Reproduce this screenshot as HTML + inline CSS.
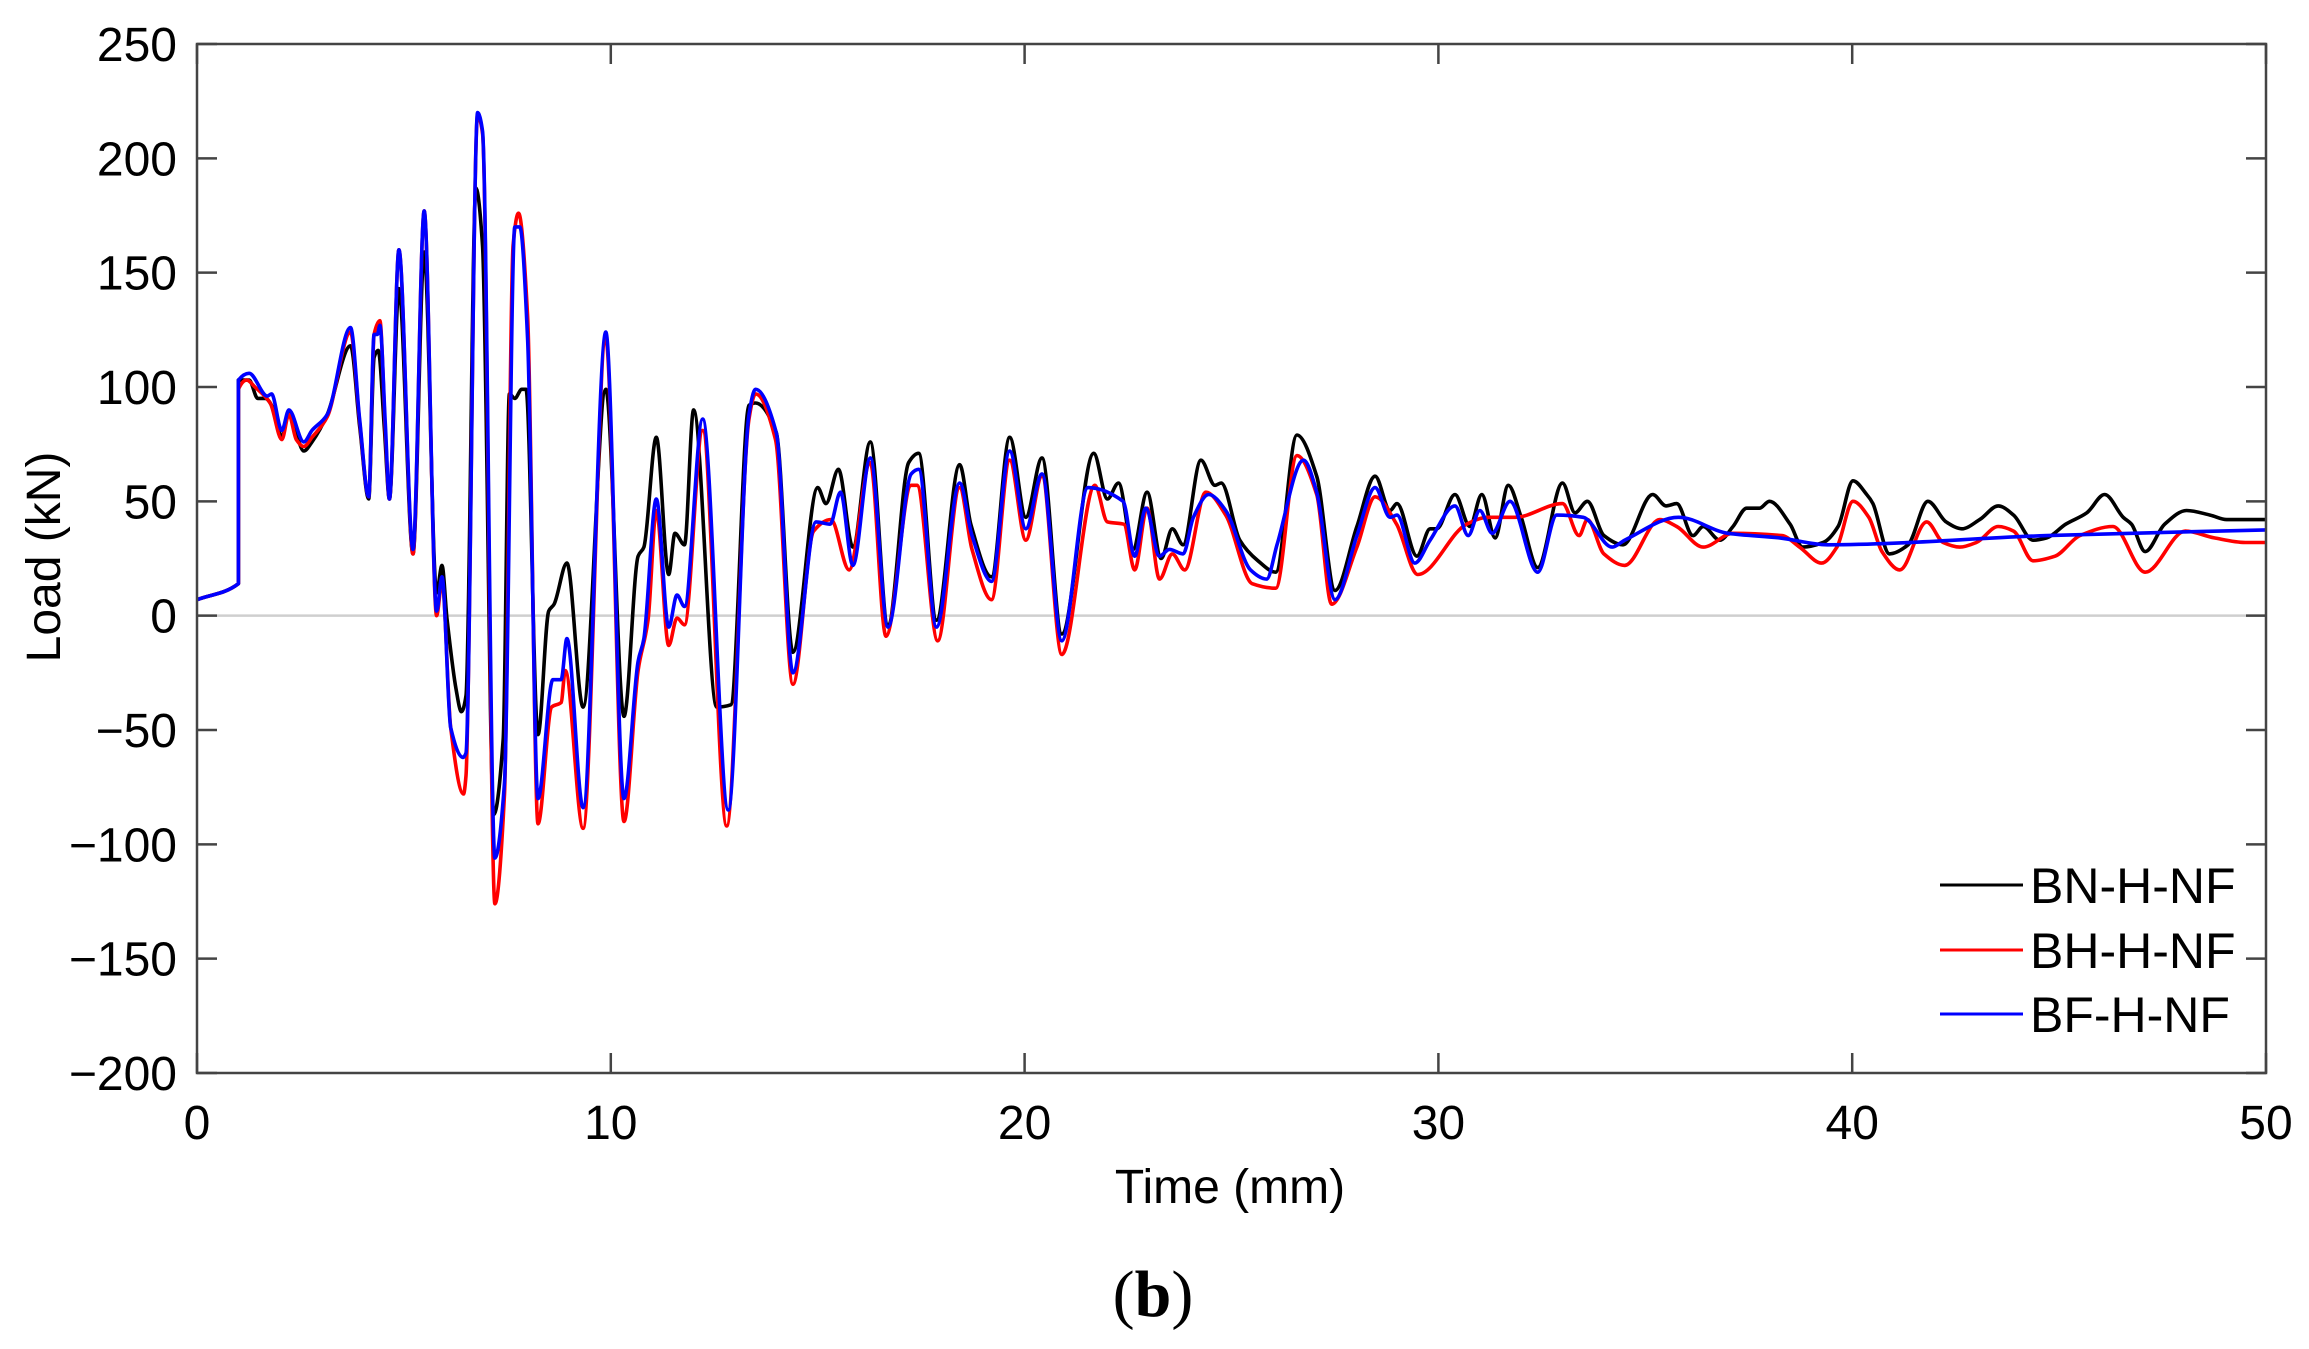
<!DOCTYPE html>
<html><head><meta charset="utf-8"><style>
html,body{margin:0;padding:0;background:#fff;}
svg{display:block;}
text{font-family:"Liberation Sans",sans-serif;fill:#000;}
</style></head><body>
<svg id="chart" width="2309" height="1349" viewBox="0 0 2309 1349" xmlns="http://www.w3.org/2000/svg">
<g id="axes"></g>
<g id="series"></g>
<rect x="197" y="44" width="2069" height="1029" fill="none" stroke="#444" stroke-width="2.5"/>
<g>
<line x1="1940" y1="885" x2="2023" y2="885" stroke="#000" stroke-width="3"/>
<text x="2030" y="903" font-size="50">BN-H-NF</text>
<line x1="1940" y1="950" x2="2023" y2="950" stroke="#f00" stroke-width="3"/>
<text x="2030" y="968" font-size="50">BH-H-NF</text>
<line x1="1940" y1="1014" x2="2023" y2="1014" stroke="#00f" stroke-width="3"/>
<text x="2030" y="1032" font-size="50">BF-H-NF</text>
</g>
<text x="1230" y="1203" font-size="48" text-anchor="middle">Time (mm)</text>
<text x="0" y="0" font-size="48" text-anchor="middle" transform="translate(60,557) rotate(-90)">Load (kN)</text>
<text x="1153" y="1316" font-size="66" text-anchor="middle" style="font-family:'Liberation Serif',serif">(<tspan font-weight="bold">b</tspan>)</text>
</svg>
<script>
const xTicks = [0,10,20,30,40,50];
const yTicks = [-200,-150,-100,-50,0,50,100,150,200,250];
const yTickLabels = ["\u2212200","\u2212150","\u2212100","\u221250","0","50","100","150","200","250"];

const bnTime = [0,1.0,1.001,1.26,1.47,1.65,1.86,2.05,2.22,2.58,2.78,3.15,3.71,3.93,4.15,4.28,4.38,4.53,4.65,4.88,5.22,5.49,5.79,5.92,6.04,6.26,6.39,6.5,6.74,6.9,7.17,7.4,7.55,7.68,7.85,7.95,8.24,8.5,8.63,8.94,9.33,9.88,10.32,10.66,10.8,11.1,11.4,11.55,11.78,12.0,12.56,12.9,13.34,13.5,14.0,14.4,15.0,15.2,15.5,15.85,16.27,16.7,17.2,17.44,17.87,18.43,18.7,19.2,19.64,20.03,20.42,20.9,21.67,22.0,22.27,22.62,22.96,23.3,23.57,23.83,24.26,24.6,24.75,25.2,25.64,26.07,26.58,27.06,27.5,28.03,28.47,28.83,29.0,29.48,29.8,29.96,30.4,30.76,31.05,31.37,31.69,32.0,32.4,33.0,33.3,33.6,34.0,34.46,35.18,35.5,35.76,36.15,36.4,36.8,37.12,37.45,37.76,38.0,38.5,38.8,39.3,39.66,40.02,40.35,40.5,40.9,41.35,41.83,42.27,42.65,43.08,43.53,43.9,44.37,44.7,45.16,45.67,46.1,46.55,46.75,47.08,47.55,48.08,48.65,49.05,50];
const bnLoad = [7,14,103,103,95,95,90,78,89,72,76,88,118,83,51,113,116,81,51,143,27,159,10,22,-1,-32,-42,-35,187,162,-87,-54,97,95,99,99,-52,2,5,23,-40,99,-44,26,30,78,18,36,31,90,-40,-39,92,93,80,-16,56,49,64,30,76,-4,67,71,-2,66,40,17,78,43,69,-8,71,51,58,29,54,25,38,31,68,57,58,33,24,19,79,61,11,39,61,46,49,26,38,38,53,39,53,34,57,43,21,58,45,50,35,31,53,48,49,35,39,33,39,47,47,50,40,30,32,39,59,53,49,27,31,50,41,38,42,48,44,33,34,40,45,53,43,40,28,40,46,44,42,42];

const bhTime = [0,1.0,1.001,1.2,1.4,1.77,2.05,2.22,2.4,2.58,2.78,3.15,3.71,3.93,4.15,4.28,4.42,4.55,4.65,4.88,5.22,5.49,5.79,5.92,6.13,6.44,6.5,6.78,6.9,7.2,7.43,7.64,7.77,7.99,8.24,8.57,8.8,8.9,9.33,9.88,10.32,10.66,10.9,11.1,11.4,11.6,11.78,12.22,12.8,13.34,13.5,13.98,14.4,14.9,15.32,15.76,16.27,16.65,17.26,17.4,17.9,18.43,18.73,19.2,19.64,20.03,20.42,20.9,21.7,22.0,22.4,22.66,22.96,23.26,23.57,23.87,24.38,24.86,25.5,26.07,26.58,27.06,27.42,28.03,28.47,28.99,29.5,30.68,31.2,31.85,33.0,33.4,33.6,34.0,34.5,35.35,35.76,36.4,37.12,38.3,38.73,39.26,39.63,40.02,40.4,40.72,41.15,41.8,42.2,42.6,43.0,43.53,43.9,44.37,44.9,45.5,46.3,47.08,48.05,48.75,49.5,50];
const bhLoad = [7,14,99,103,100,93,77,88,77,74,78,87,124,85,52,123,129,81,51,160,27,177,0,15,-49,-78,-70,219,211,-126,-78,162,176,131,-91,-40,-38,-24,-93,121,-90,-24,-2,46,-13,-1,-4,81,-92,86,97,77,-30,37,42,20,67,-9,57,57,-11,56,29,7,68,33,61,-17,57,41,40,20,47,16,27,20,54,44,14,12,70,53,5,30,52,40,18,40,43,43,49,35,42,27,22,42,39,30,36,35,30,23,30,50,43,28,20,41,32,30,32,39,37,24,26,35,39,19,37,34,32,32];

const bfTime = [0,1.0,1.001,1.26,1.7,1.8,2.05,2.22,2.58,2.78,3.15,3.71,3.93,4.15,4.28,4.36,4.42,4.55,4.65,4.88,5.22,5.49,5.79,5.92,6.13,6.43,6.5,6.78,6.9,7.2,7.43,7.68,7.8,7.99,8.24,8.6,8.8,8.94,9.33,9.88,10.32,10.66,10.8,11.1,11.4,11.6,11.78,12.22,12.84,13.34,13.5,14.0,14.4,14.96,15.3,15.55,15.85,16.27,16.7,17.26,17.44,17.87,18.43,18.73,19.2,19.64,20.03,20.42,20.9,21.53,22.38,22.66,22.93,23.26,23.5,23.83,24.08,24.45,24.86,25.46,25.85,26.1,26.74,27.06,27.5,28.03,28.47,28.83,29.0,29.43,29.8,30.4,30.72,31.0,31.3,31.73,32.4,32.86,33.5,34.2,34.5,35.8,37.0,38.25,39.4,44.7,50];
const bfLoad = [7,14,103,106,96,97,81,90,76,81,88,126,86,52,123,123,127,84,51,160,29,177,2,17,-49,-62,-60,220,212,-106,-73,170,170,121,-80,-28,-28,-10,-84,124,-80,-20,-10,51,-5,9,4,86,-85,88,99,80,-25,41,40,54,22,69,-5,62,64,-5,58,35,15,72,38,62,-11,56,50,26,47,26,29,27,43,53,46,20,16,31,68,54,7,35,56,43,44,23,33,48,35,46,36,50,19,44,43,30,33,43,36,34,31,35,37.5];

const X0=197, X1=2266, Y0=1073, Y1=44;
function sx(t){return X0+(t-0)/(50-0)*(X1-X0);}
function sy(v){return Y0+(v-(-200))/(250-(-200))*(Y1-Y0);}
const NS="http://www.w3.org/2000/svg";
const axes=document.getElementById('axes');
const seriesG=document.getElementById('series');

const zl=document.createElementNS(NS,'line');


zl.setAttribute('x1',X0);zl.setAttribute('x2',X1);zl.setAttribute('y1',sy(0));zl.setAttribute('y2',sy(0));
zl.setAttribute('stroke','#cfcfcf');zl.setAttribute('stroke-width','2.5');
axes.appendChild(zl);

xTicks.forEach((t,i)=>{
  const x=sx(t);
  [[Y0,Y0-20],[Y1,Y1+20]].forEach(p=>{
    const l=document.createElementNS(NS,'line');
    
    
    l.setAttribute('x1',x);l.setAttribute('x2',x);l.setAttribute('y1',p[0]);l.setAttribute('y2',p[1]);
    l.setAttribute('stroke','#444');l.setAttribute('stroke-width','2.5');
    axes.appendChild(l);
  });
  const tx=document.createElementNS(NS,'text');
  
  
  tx.setAttribute('x',x);tx.setAttribute('y',1139);tx.setAttribute('font-size','48');tx.setAttribute('text-anchor','middle');
  tx.textContent=String(t);
  axes.appendChild(tx);
});
yTicks.forEach((v,i)=>{
  const y=sy(v);
  [[X0,X0+20],[X1,X1-20]].forEach(p=>{
    const l=document.createElementNS(NS,'line');
    
    
    l.setAttribute('x1',p[0]);l.setAttribute('x2',p[1]);l.setAttribute('y1',y);l.setAttribute('y2',y);
    l.setAttribute('stroke','#444');l.setAttribute('stroke-width','2.5');
    axes.appendChild(l);
  });
  const tx=document.createElementNS(NS,'text');
  
  
  tx.setAttribute('x',177);tx.setAttribute('y',y+17);tx.setAttribute('font-size','48');tx.setAttribute('text-anchor','end');
  tx.textContent=yTickLabels[i];
  axes.appendChild(tx);
});

function monoPath(ts,vs){
  const xs=ts.map(sx), ys=vs.map(sy), n=xs.length;
  const d=[],m=new Array(n);
  for(let i=0;i<n-1;i++){d.push((ys[i+1]-ys[i])/Math.max(xs[i+1]-xs[i],1e-6));}
  m[0]=d[0];m[n-1]=d[n-2];
  for(let i=1;i<n-1;i++){ m[i]=(d[i-1]*d[i]<=0)?0:(2/(1/d[i-1]+1/d[i])); }
  let p='M'+xs[0].toFixed(1)+','+ys[0].toFixed(1);
  for(let i=0;i<n-1;i++){
    const h=xs[i+1]-xs[i];
    if(h<0.5){p+=' L'+xs[i+1].toFixed(1)+','+ys[i+1].toFixed(1);continue;}
    const c1x=xs[i]+h/3,c1y=ys[i]+m[i]*h/3,c2x=xs[i+1]-h/3,c2y=ys[i+1]-m[i+1]*h/3;
    p+=' C'+c1x.toFixed(1)+','+c1y.toFixed(1)+' '+c2x.toFixed(1)+','+c2y.toFixed(1)+' '+xs[i+1].toFixed(1)+','+ys[i+1].toFixed(1);
  }
  return p;
}

const pb=document.createElementNS(NS,'path');


pb.setAttribute('d',monoPath(bnTime,bnLoad));
pb.setAttribute('fill','none');pb.setAttribute('stroke','#000');pb.setAttribute('stroke-width','3.6');pb.setAttribute('stroke-linejoin','round');
seriesG.appendChild(pb);

const pr=document.createElementNS(NS,'path');


pr.setAttribute('d',monoPath(bhTime,bhLoad));
pr.setAttribute('fill','none');pr.setAttribute('stroke','#f00');pr.setAttribute('stroke-width','3.6');pr.setAttribute('stroke-linejoin','round');
seriesG.appendChild(pr);

const pbl=document.createElementNS(NS,'path');


pbl.setAttribute('d',monoPath(bfTime,bfLoad));
pbl.setAttribute('fill','none');pbl.setAttribute('stroke','#00f');pbl.setAttribute('stroke-width','3.6');pbl.setAttribute('stroke-linejoin','round');
seriesG.appendChild(pbl);
</script>
</body></html>
